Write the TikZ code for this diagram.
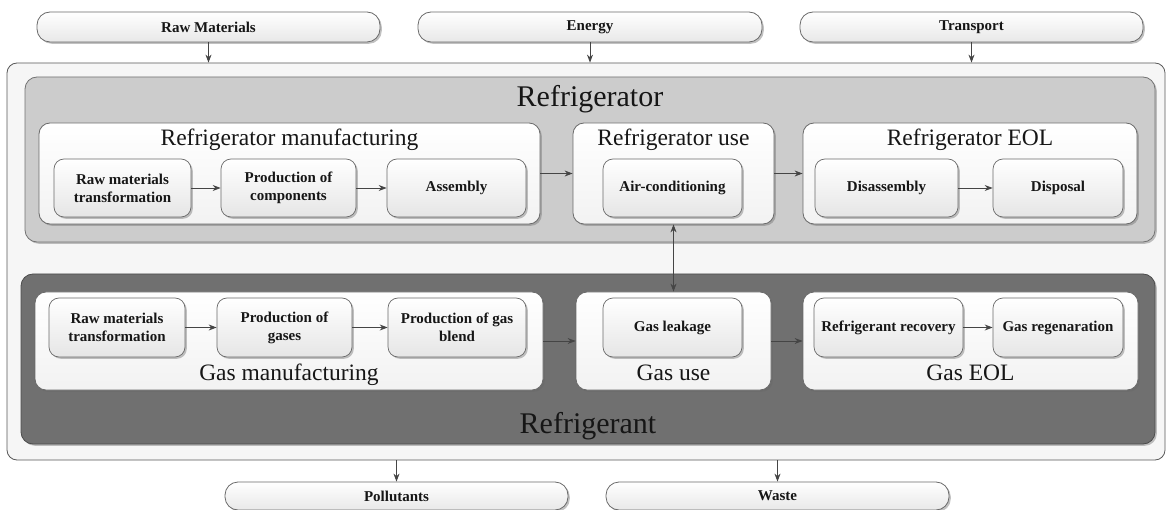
\documentclass[tikz,border=0pt]{standalone}
\usepackage{fontspec}
\setmainfont{Liberation Serif}
\usetikzlibrary{arrows.meta,shadows}
\definecolor{txt}{HTML}{161616}
\definecolor{bord}{HTML}{6A6A6A}
\definecolor{outerfill}{HTML}{F6F6F6}
\definecolor{fridgefill}{HTML}{CCCCCC}
\definecolor{gasfill}{HTML}{707070}
\definecolor{arrc}{HTML}{454545}
\newcommand{\smallb}{\fontsize{15}{18}\selectfont\bfseries}
\newcommand{\subt}{\fontsize{23.5}{26}\selectfont}
\newcommand{\bigt}{\fontsize{30}{34}\selectfont}
\tikzset{
  shad/.style={drop shadow={shadow xshift=1.8pt,shadow yshift=-1.8pt,opacity=.4,fill=black!60}},
  pill/.style={draw=bord, line width=0.8pt, rounded corners=13pt, top color=white, bottom color=black!9,
     shad, font=\smallb, text=txt, inner sep=1pt, minimum height=30pt},
  panel/.style={draw=bord, line width=0.8pt, rounded corners=12pt, inner sep=0pt},
  stagebox/.style={draw=bord, line width=0.8pt, rounded corners=11pt, top color=white, bottom color=black!5,
     shad, inner sep=0pt},
  procbox/.style={draw=bord, line width=0.7pt, rounded corners=10pt, top color=white, bottom color=black!10,
     shad, font=\smallb, text=txt, align=center, inner sep=1pt},
  ttl/.style={text=txt, anchor=base, inner sep=0pt},
  arr/.style={draw=arrc, line width=0.9pt, -{Stealth[length=8pt,width=6pt]}},
  darr/.style={draw=arrc, line width=0.9pt, {Stealth[length=8pt,width=6pt]}-{Stealth[length=8pt,width=6pt]}},
}
\begin{document}
\begin{tikzpicture}[x=1pt,y=-1pt]
\useasboundingbox (0,0) rectangle (1166,510);
\fill[white] (0,0) rectangle (1166,510);

% inputs
\node[pill, minimum width=343pt] (rawin) at (208.5,27) {Raw Materials};
\node[pill, minimum width=344pt] (energy) at (590,27) {Energy};
\node[pill, minimum width=343pt] (transport) at (971.5,27) {Transport};

% outer system box
\node[panel, fill=outerfill, draw=black!65, rounded corners=10pt, minimum width=1158pt, minimum height=397pt] (outer) at (586,261.5) {};

% refrigerator panel
\node[panel, fill=fridgefill, draw=black!55, shad, minimum width=1130pt, minimum height=165pt] (fridge) at (590,159.5) {};
\node[ttl, font=\bigt] (fridgettl) at (590,107) {Refrigerator};

% refrigerant panel
\node[panel, fill=gasfill, draw=black!70, shad, minimum width=1134pt, minimum height=170pt] (gas) at (588,359) {};
\node[ttl, font=\bigt] (gasttl) at (588,433) {Refrigerant};

% refrigerator stages
\node[stagebox, minimum width=501pt, minimum height=101pt] (rmfg) at (289.5,173.5) {};
\node[stagebox, minimum width=201pt, minimum height=101pt] (ruse) at (673.5,173.5) {};
\node[stagebox, minimum width=334pt, minimum height=101pt] (reol) at (970,173.5) {};
\node[ttl, font=\subt] (rmfgt) at (289.5,146) {Refrigerator manufacturing};
\node[ttl, font=\subt] (ruset) at (673.5,146) {Refrigerator use};
\node[ttl, font=\subt] (reolt) at (970,146) {Refrigerator EOL};

\node[procbox, minimum width=137pt, minimum height=58pt] (r1) at (122.5,188) {Raw materials\\transformation};
\node[procbox, minimum width=135pt, minimum height=58pt] (r2) at (288.5,188) {Production of\\components};
\node[procbox, minimum width=139pt, minimum height=58pt] (r3) at (456.5,188) {Assembly};
\node[procbox, minimum width=139pt, minimum height=58pt] (ac) at (672.5,188) {Air-conditioning};
\node[procbox, minimum width=143pt, minimum height=58pt] (dis) at (886.5,188) {Disassembly};
\node[procbox, minimum width=130pt, minimum height=58pt] (disp) at (1058,188) {Disposal};

% gas stages
\node[stagebox, minimum width=508pt, minimum height=98pt] (gmfg) at (289,341) {};
\node[stagebox, minimum width=195pt, minimum height=98pt] (guse) at (673.5,341) {};
\node[stagebox, minimum width=335pt, minimum height=98pt] (geol) at (970.5,341) {};
\node[ttl, font=\subt] (gmfgt) at (289,380) {Gas manufacturing};
\node[ttl, font=\subt] (guset) at (673.5,380) {Gas use};
\node[ttl, font=\subt] (geolt) at (970.5,380) {Gas EOL};

\node[procbox, minimum width=136pt, minimum height=59pt] (g1) at (117,327.5) {Raw materials\\transformation};
\node[procbox, minimum width=135pt, minimum height=59pt] (g2) at (284.5,327.5) {Production of\\gases};
\node[procbox, minimum width=138pt, minimum height=59pt] (g3) at (457,327.5) {Production of gas\\blend};
\node[procbox, minimum width=139pt, minimum height=59pt] (gl) at (672.5,327.5) {Gas leakage};
\node[procbox, minimum width=149pt, minimum height=59pt] (rr) at (888.5,327.5) {Refrigerant recovery};
\node[procbox, minimum width=130pt, minimum height=59pt] (gr) at (1058,327.5) {Gas regenaration};

% outputs
\node[pill, minimum width=343pt, minimum height=28pt] (pol) at (396.5,496) {Pollutants};
\node[pill, minimum width=343pt, minimum height=28pt] (waste) at (777.5,496) {Waste};

% connectors
\draw[arr] (rawin.south) -- (rawin.south |- outer.north);
\draw[arr] (energy.south) -- (energy.south |- outer.north);
\draw[arr] (transport.south) -- (transport.south |- outer.north);
\draw[arr] (pol.north |- outer.south) -- (pol.north);
\draw[arr] (waste.north |- outer.south) -- (waste.north);

\draw[arr] (r1) -- (r2);
\draw[arr] (r2) -- (r3);
\draw[arr] (dis) -- (disp);
\draw[arr] (rmfg) -- (ruse);
\draw[arr] (ruse) -- (reol);

\draw[arr] (g1) -- (g2);
\draw[arr] (g2) -- (g3);
\draw[arr] (rr) -- (gr);
\draw[arr] (gmfg) -- (guse);
\draw[arr] (guse) -- (geol);

\draw[darr] (ruse.south) -- (guse.north);
\end{tikzpicture}
\end{document}
